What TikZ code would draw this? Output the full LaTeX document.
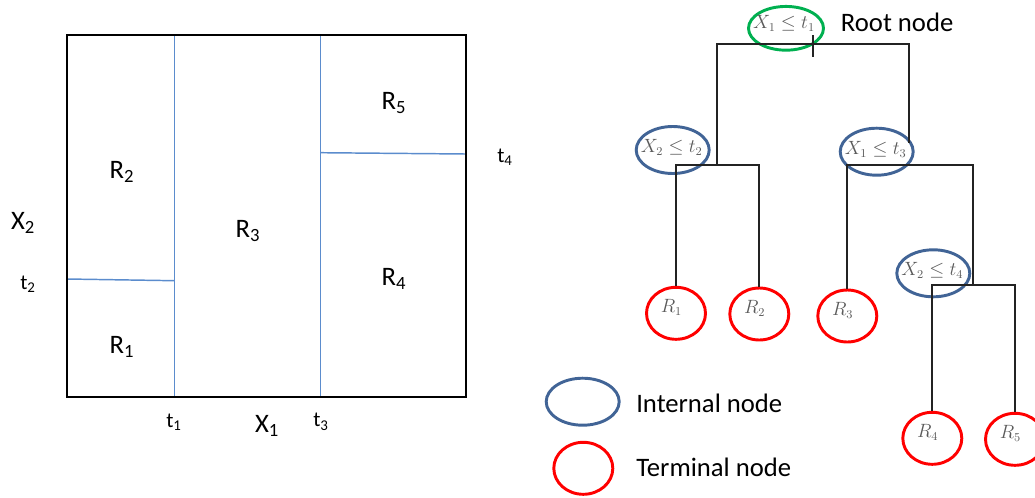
\documentclass[tikz,border=0pt]{standalone}
\usepackage{fontspec}
\setmainfont{Carlito}
\usetikzlibrary{shapes.geometric}
\definecolor{splitblue}{RGB}{91,140,205}
\definecolor{intblue}{RGB}{65,100,150}
\definecolor{rootgreen}{RGB}{0,176,80}
\definecolor{termred}{RGB}{255,0,0}
\definecolor{mathgray}{RGB}{90,90,90}
\definecolor{treegray}{RGB}{35,35,35}
\begin{document}
\begin{tikzpicture}[x=0.75pt,y=-0.75pt,
  boxline/.style={draw=black,line width=1.2pt},
  splitline/.style={draw=splitblue,line width=1.1pt},
  biglbl/.style={font=\fontsize{20}{24}\selectfont,inner sep=0pt},
  smalllbl/.style={font=\fontsize{16}{19}\selectfont,inner sep=0pt},
  internal/.style={ellipse,draw=intblue,line width=2.2pt,inner sep=0pt,minimum width=54.75pt,minimum height=35.25pt},
  rootnode/.style={ellipse,draw=rootgreen,line width=2.2pt,inner sep=0pt,minimum width=56.25pt,minimum height=32.8pt},
  terminal/.style={ellipse,draw=termred,line width=2.2pt,inner sep=0pt,minimum width=44.25pt,minimum height=39pt},
  mathtxt/.style={text=mathgray,font=\fontsize{13.5}{16}\selectfont,inner sep=0pt},
  treeline/.style={draw=treegray,line width=1.4pt}]
\useasboundingbox (0,0) rectangle (1035,497);

% ---------- partition of the feature space ----------
\draw[splitline] (174.5,35) -- (174.5,397);
\draw[splitline] (320.7,35) -- (320.7,397);
\draw[splitline] (67,279) -- (174.5,280.7);
\draw[splitline] (320.7,152.7) -- (466,154);
\draw[boxline] (67,35) rectangle (466,396.7);

\node[biglbl] (lR2) at (122,172) {R\textsubscript{2}};
\node[biglbl] (lR1) at (122,347) {R\textsubscript{1}};
\node[biglbl] (lR3) at (248,231) {R\textsubscript{3}};
\node[biglbl] (lR4) at (394,279) {R\textsubscript{4}};
\node[biglbl] (lR5) at (394,103) {R\textsubscript{5}};
\node[biglbl] (lX2) at (23,223) {X\textsubscript{2}};
\node[biglbl] (lX1) at (267,426) {X\textsubscript{1}};
\node[smalllbl] (lt2) at (28,284) {t\textsubscript{2}};
\node[smalllbl] (lt1) at (174,422) {t\textsubscript{1}};
\node[smalllbl] (lt3) at (321,422) {t\textsubscript{3}};
\node[smalllbl] (lt4) at (505,157) {t\textsubscript{4}};

% ---------- tree ----------
\node[rootnode] (root) at (786,28.3) {};
\node[internal] (nL) at (672.7,150) {};
\node[internal] (nR) at (876.7,151.7) {};
\node[internal] (nRR) at (933.3,273.3) {};
\node[terminal] (R1) at (676,313.3) {};
\node[terminal] (R2) at (759.3,314) {};
\node[terminal] (R3) at (847.3,316) {};
\node[terminal] (R4) at (932.3,438.3) {};
\node[terminal] (R5) at (1015,439.3) {};

\node[mathtxt] (troot) at (784,23) {$X_1\leq t_1$};
\node[mathtxt] (tnL) at (671.7,147.5) {$X_2\leq t_2$};
\node[mathtxt] (tnR) at (875.7,149) {$X_1\leq t_3$};
\node[mathtxt] (tnRR) at (932.3,270.5) {$X_2\leq t_4$};
\node[mathtxt] (tR1) at ([xshift=-3.5pt,yshift=4.5pt]R1.center) {$R_1$};
\node[mathtxt] (tR2) at ([xshift=-3.5pt,yshift=4.5pt]R2.center) {$R_2$};
\node[mathtxt] (tR3) at ([xshift=-3.5pt,yshift=4.5pt]R3.center) {$R_3$};
\node[mathtxt] (tR4) at ([xshift=-3.5pt,yshift=4.5pt]R4.center) {$R_4$};
\node[mathtxt] (tR5) at ([xshift=-3.5pt,yshift=4.5pt]R5.center) {$R_5$};

\coordinate (jTop) at (813,44);
\coordinate (jA) at (717,165);
\coordinate (jB) at (909,143);
\coordinate (jC) at (909,165);
\coordinate (jD) at (973,285);

\draw[treeline] (jA) |- (jTop) -| (jB);
\draw[treeline] (jTop) ++(0,-9) -- ++(0,22);
\draw[treeline] (R1.north) |- (jA) -| (R2.north);
\draw[treeline] (R3.north) |- (jC) -| (jD);
\draw[treeline] (R4.north) |- (jD) -| (R5.north);

\node[biglbl,anchor=west] (rootlbl) at (840.7,22.7) {Root node};

% ---------- legend ----------
\node[internal] (legI) at (582.7,401.7) {};
\node[terminal] (legT) at (583.3,468.3) {};
\node[biglbl,anchor=west] (legIt) at (636,403) {Internal node};
\node[biglbl,anchor=west] (legTt) at (636,467) {Terminal node};
\end{tikzpicture}
\end{document}
